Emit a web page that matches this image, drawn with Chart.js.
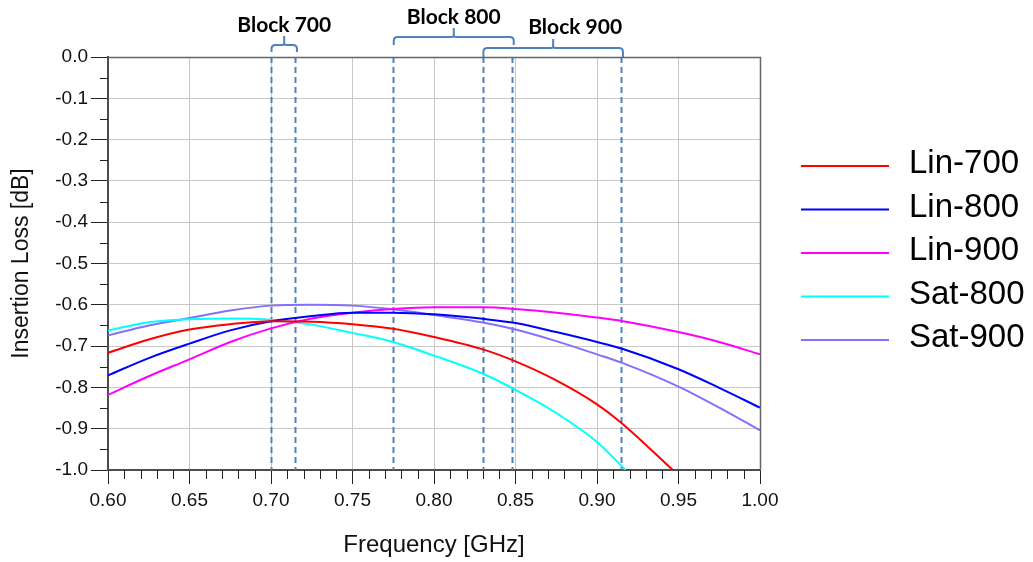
<!DOCTYPE html>
<html>
<head>
<meta charset="utf-8">
<script src="https://cdn.jsdelivr.net/npm/chart.js@4"></script>
<style>
  body { margin: 0; background: #fff; }
  #chart { display: block; }
</style>
</head>
<body>
<canvas id="chart" width="1033" height="562"></canvas>
<script>
// frequency grid (GHz)
const freq = [0.60, 0.625, 0.65, 0.675, 0.70, 0.725, 0.75, 0.775, 0.80, 0.83, 0.85, 0.875, 0.90, 0.915, 0.95, 0.975, 1.00];
const freqLin700 = [0.60, 0.625, 0.65, 0.675, 0.70, 0.725, 0.75, 0.775, 0.80, 0.83, 0.85, 0.875, 0.90, 0.915, 0.9465];
const freqSat800 = [0.60, 0.625, 0.65, 0.675, 0.70, 0.725, 0.75, 0.775, 0.80, 0.83, 0.85, 0.875, 0.90, 0.9175];

// insertion loss (dB)
const lin700 = [-0.716, -0.684, -0.660, -0.647, -0.640, -0.641, -0.647, -0.658, -0.678, -0.708, -0.737, -0.783, -0.841, -0.886, -1.0];
const lin800 = [-0.771, -0.729, -0.694, -0.662, -0.640, -0.627, -0.619, -0.619, -0.623, -0.634, -0.644, -0.666, -0.690, -0.706, -0.756, -0.801, -0.849];
const lin900 = [-0.818, -0.773, -0.732, -0.690, -0.657, -0.633, -0.619, -0.610, -0.606, -0.606, -0.610, -0.619, -0.631, -0.639, -0.666, -0.690, -0.720];
const sat800 = [-0.662, -0.642, -0.635, -0.633, -0.636, -0.648, -0.668, -0.690, -0.723, -0.767, -0.806, -0.862, -0.932, -1.0];
const sat900 = [-0.674, -0.650, -0.632, -0.614, -0.602, -0.600, -0.602, -0.611, -0.625, -0.643, -0.660, -0.688, -0.720, -0.740, -0.798, -0.849, -0.904];

// frequency blocks
const blockLabels = ['Block 700', 'Block 800', 'Block 900'];
const blockLow = [0.70, 0.775, 0.83];
const blockHigh = [0.715, 0.848, 0.915];

const FONT = "'Liberation Sans', Arial, sans-serif";
const BLUE = '#4f81bd';

function pts(xs, ys) {
  return ys.map((y, i) => ({ x: xs[i], y: y }));
}

function series(label, xs, ys, color) {
  return {
    label: label,
    data: pts(xs, ys),
    borderColor: color,
    backgroundColor: color,
    borderWidth: 2,
    pointRadius: 0,
    cubicInterpolationMode: 'monotone'
  };
}

// minor ticks, frame, block markers and legend
const extras = {
  id: 'extras',
  beforeDatasetsDraw(chart) {
    const ctx = chart.ctx;
    const a = chart.chartArea;
    const x = chart.scales.x;
    ctx.save();
    ctx.strokeStyle = BLUE;
    ctx.lineWidth = 2;
    ctx.setLineDash([6, 4]);
    blockLow.concat(blockHigh).forEach(v => {
      const px = Math.round(x.getPixelForValue(v)) + 0.5;
      ctx.beginPath();
      ctx.moveTo(px, a.top);
      ctx.lineTo(px, a.bottom);
      ctx.stroke();
    });
    ctx.restore();
  },
  afterDraw(chart) {
    const ctx = chart.ctx;
    const a = chart.chartArea;
    const x = chart.scales.x;
    const y = chart.scales.y;
    ctx.save();

    // frame top/right
    ctx.strokeStyle = '#666';
    ctx.lineWidth = 1.5;
    ctx.beginPath();
    ctx.moveTo(a.left, a.top + 0.5);
    ctx.lineTo(a.right + 0.5, a.top + 0.5);
    ctx.lineTo(a.right + 0.5, a.bottom);
    ctx.stroke();

    // minor ticks
    ctx.strokeStyle = '#222';
    ctx.lineWidth = 1;
    for (let i = 0; i <= 40; i++) {
      if (i % 5 === 0) continue;
      const px = Math.round(x.getPixelForValue(0.6 + i * 0.01)) + 0.5;
      ctx.beginPath();
      ctx.moveTo(px, a.bottom);
      ctx.lineTo(px, a.bottom + 9);
      ctx.stroke();
    }
    for (let i = 1; i < 20; i += 2) {
      const py = Math.round(y.getPixelForValue(-i * 0.05)) + 0.5;
      ctx.beginPath();
      ctx.moveTo(a.left - 8, py);
      ctx.lineTo(a.left, py);
      ctx.stroke();
    }

    // brackets
    const lineY = [45, 37, 48];
    const endY = [52, 45, 57];
    const tipY = [36, 28, 39];
    const textY = [25, 17, 27];
    const textDx = [0, 0, 22];
    ctx.strokeStyle = BLUE;
    ctx.lineWidth = 2;
    ctx.lineJoin = 'round';
    blockLabels.forEach((lab, i) => {
      const x1 = x.getPixelForValue(blockLow[i]) + 0.5;
      const x2 = x.getPixelForValue(blockHigh[i]) + 1.5;
      const xm = (x1 + x2) / 2;
      const r = 4;
      ctx.beginPath();
      ctx.moveTo(x1, endY[i]);
      ctx.lineTo(x1, lineY[i] + r);
      ctx.quadraticCurveTo(x1, lineY[i], x1 + r, lineY[i]);
      ctx.lineTo(xm - 2, lineY[i]);
      ctx.quadraticCurveTo(xm, lineY[i], xm, lineY[i] - 2);
      ctx.lineTo(xm, tipY[i]);
      ctx.moveTo(xm, lineY[i] - 2);
      ctx.quadraticCurveTo(xm, lineY[i], xm + 2, lineY[i]);
      ctx.lineTo(x2 - r, lineY[i]);
      ctx.quadraticCurveTo(x2, lineY[i], x2, lineY[i] + r);
      ctx.lineTo(x2, endY[i]);
      ctx.stroke();

      ctx.fillStyle = '#000';
      ctx.font = "bold 21px Lato, 'Open Sans', sans-serif";
      ctx.textAlign = 'center';
      ctx.textBaseline = 'middle';
      ctx.fillText(lab, xm + textDx[i], textY[i]);
    });

    // legend
    ctx.setLineDash([]);
    ctx.font = '33px ' + FONT;
    ctx.textAlign = 'left';
    ctx.textBaseline = 'alphabetic';
    chart.data.datasets.forEach((ds, i) => {
      const ly = 166 + i * 43.5;
      ctx.strokeStyle = ds.borderColor;
      ctx.lineWidth = 2;
      ctx.beginPath();
      ctx.moveTo(801, ly);
      ctx.lineTo(889, ly);
      ctx.stroke();
      ctx.fillStyle = '#000';
      ctx.fillText(ds.label, 909, ly + 7);
    });
    ctx.restore();
  }
};

const chart = new Chart(document.getElementById('chart').getContext('2d'), {
  type: 'line',
  data: {
    datasets: [
      series('Lin-700', freqLin700, lin700, '#ff0000'),
      series('Lin-800', freq, lin800, '#0000ff'),
      series('Lin-900', freq, lin900, '#ff00ff'),
      series('Sat-800', freqSat800, sat800, '#00ffff'),
      series('Sat-900', freq, sat900, '#8470ff')
    ]
  },
  options: {
    responsive: false,
    animation: false,
    layout: { padding: { top: 57, right: 273, left: 0, bottom: 0 } },
    plugins: {
      legend: { display: false },
      tooltip: { enabled: false }
    },
    scales: {
      x: {
        type: 'linear',
        min: 0.6,
        max: 1.0,
        afterFit(s) { s.height = 92; },
        ticks: {
          stepSize: 0.05,
          color: '#111',
          padding: 5,
          maxRotation: 0,
          font: { family: FONT, size: 19 },
          callback: v => v.toFixed(2)
        },
        grid: { color: '#c8c8c8', tickColor: '#222', tickLength: 14 },
        border: { color: '#4d4d4d', width: 2 },
        title: {
          display: true,
          text: 'Frequency [GHz]',
          color: '#111',
          font: { family: FONT, size: 24 },
          padding: { top: 0, bottom: 2 }
        }
      },
      y: {
        min: -1.0,
        max: 0.0,
        afterFit(s) { s.width = 108; },
        ticks: {
          stepSize: 0.1,
          color: '#111',
          padding: 3,
          font: { family: FONT, size: 19 },
          callback: v => v.toFixed(1)
        },
        grid: { color: '#c8c8c8', tickColor: '#222', tickLength: 17 },
        border: { color: '#4d4d4d', width: 2 },
        title: {
          display: true,
          text: 'Insertion Loss [dB]',
          color: '#111',
          font: { family: FONT, size: 23 },
          padding: { top: 8, bottom: 0 }
        }
      }
    }
  },
  plugins: [extras]
});
</script>
</body>
</html>
